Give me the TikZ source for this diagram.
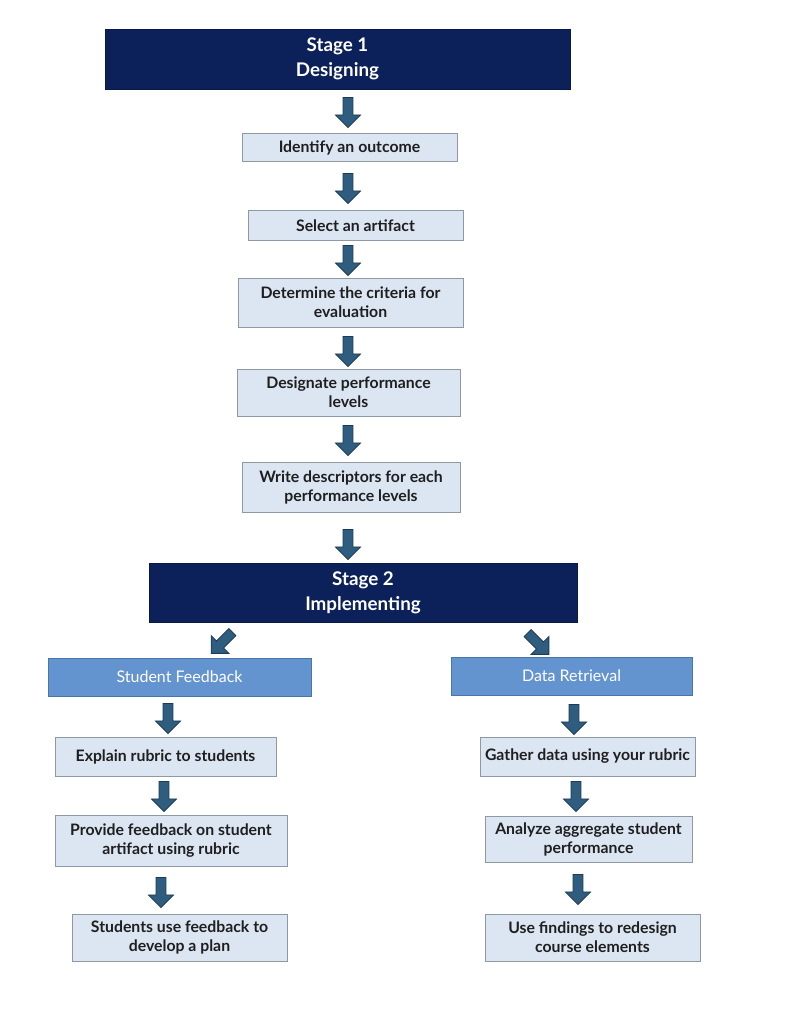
\documentclass[tikz,border=0pt]{standalone}
\usepackage{fontspec}
\setmainfont{Lato}
\usetikzlibrary{shapes.arrows}
\definecolor{navy}{HTML}{0C2159}
\definecolor{stepfill}{HTML}{DCE6F2}
\definecolor{stepline}{HTML}{8E99A4}
\definecolor{trackblue}{HTML}{6494D0}
\definecolor{trackline}{HTML}{4A75A8}
\definecolor{arrowfill}{HTML}{2F5D80}
\definecolor{arrowline}{HTML}{1D3B55}
\tikzset{
 stage/.style={fill=navy,draw=navy!80!black,text=white,font=\fontsize{18.8}{25}\selectfont\bfseries,align=center,inner sep=0pt},
 stepbox/.style={fill=stepfill,draw=stepline,line width=1pt,text=black!88,font=\fontsize{15.8}{19}\selectfont\bfseries,align=center,inner sep=0pt},
 track/.style={fill=trackblue,draw=trackline,line width=1pt,text=white,font=\fontsize{16}{19}\selectfont,inner sep=0pt},
 blockarr/.style={single arrow,shape border rotate=270,fill=arrowfill,draw=arrowline,line width=0.8pt,inner sep=4.5pt,minimum width=25pt,minimum height=30pt,single arrow head extend=7.5pt}
}
\begin{document}
\begin{tikzpicture}[x=1pt,y=-1pt]
 \fill[white](0,0)rectangle(785,1024);
 \useasboundingbox(0,0)rectangle(785,1024);
 % stage 1
 \node[stage,minimum width=465pt,minimum height=60pt](s1)at(337.5,59){Stage 1\\Designing};
 \node[stepbox,minimum width=215pt,minimum height=28pt](idf)at(349.5,148){Identify an outcome};
 \node[stepbox,minimum width=215pt,minimum height=29pt](sel)at(355.5,225.5){Select an artifact};
 \node[stepbox,minimum width=225pt,minimum height=49pt](crit)at(350.5,302.5){Determine the criteria for\\evaluation};
 \node[stepbox,minimum width=223pt,minimum height=47pt](lev)at(348.5,392.5){Designate performance\\levels};
 \node[stepbox,minimum width=218pt,minimum height=50pt](desc)at(351,487){Write descriptors for each\\performance levels};
 % stage 2
 \node[stage,minimum width=428pt,minimum height=59pt](s2)at(363,592.5){Stage 2\\Implementing};
 \node[track,minimum width=263pt,minimum height=38pt](fb)at(179.5,677){Student Feedback};
 \node[track,minimum width=241pt,minimum height=38pt](dr)at(571.5,676){Data Retrieval};
 \node[stepbox,minimum width=221pt,minimum height=39pt](expl)at(165.5,756.5){Explain rubric to students};
 \node[stepbox,minimum width=232pt,minimum height=51pt](prov)at(171,840.5){Provide feedback on student\\artifact using rubric};
 \node[stepbox,minimum width=215pt,minimum height=47pt](plan)at(179.5,937.5){Students use feedback to\\develop a plan};
 \node[stepbox,minimum width=215pt,minimum height=39pt](gath)at(587.5,756.5){Gather data using your rubric};
 \node[stepbox,minimum width=207pt,minimum height=46pt](anl)at(588.5,839){Analyze aggregate student\\performance};
 \node[stepbox,minimum width=215pt,minimum height=47pt](redes)at(592.5,937.5){Use findings to redesign\\course elements};
 % block arrows between the boxes
 \foreach \nm/\x/\y/\r in {a1/348/110/0,a2/348/186/0,a3/348/258/0,a4/348/349/0,a5/348/438/0,a6/348/542/0,
   al/223.5/641/-45,ar/536.5/642/45,
   f1/168/716/0,f2/164/794/0,f3/161/890/0,d1/574/717/0,d2/576/794/0,d3/578/887/0}
   {\node[blockarr,rotate=\r](\nm)at(\x,\y){};}
\end{tikzpicture}
\end{document}
